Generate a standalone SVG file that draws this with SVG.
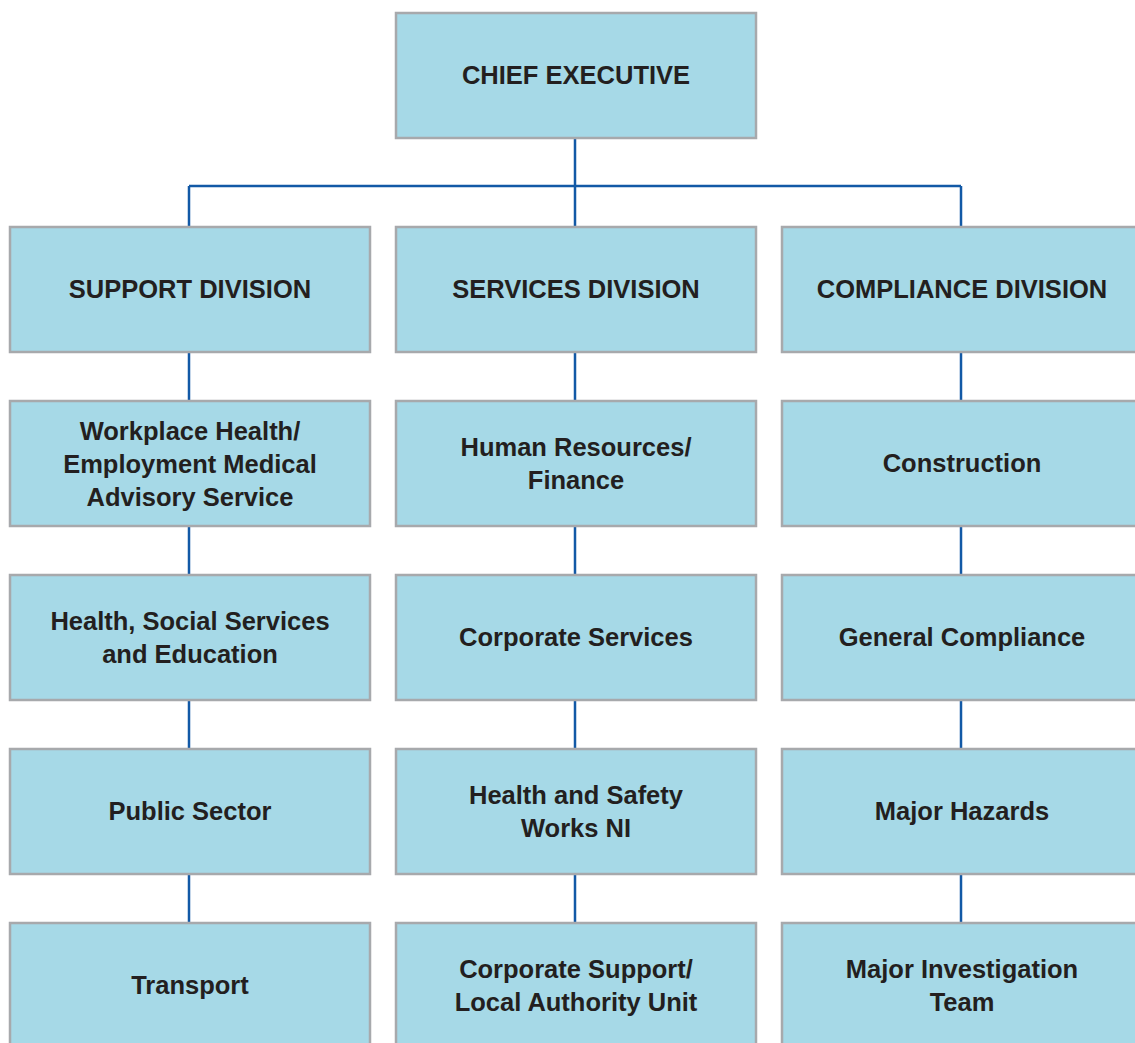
<svg xmlns="http://www.w3.org/2000/svg" width="1135" height="1043" viewBox="0 0 1135 1043">
<style>
.box{fill:#a6d9e7;stroke:#a7a9ac;stroke-width:2.5}
.t{font-family:"Liberation Sans",Arial,sans-serif;font-weight:bold;font-size:25.5px;fill:#231f20;text-anchor:middle}
.c{stroke:#1259a6;stroke-width:2.5;fill:none}
</style>
<rect width="1135" height="1043" fill="#ffffff"/>
<g id="connectors">
<path class="c" d="M575,138 V227 M189,186 H961 M189,186 V227 M961,186 V227"/>
<path class="c" d="M189,352 V401 M189,526 V575 M189,700 V749 M189,874 V923"/>
<path class="c" d="M575,352 V401 M575,526 V575 M575,700 V749 M575,874 V923"/>
<path class="c" d="M961,352 V401 M961,526 V575 M961,700 V749 M961,874 V923"/>
</g>
<g id="chief"><rect class="box" x="396" y="13" width="360" height="125"/><text class="t" x="576" y="84">CHIEF EXECUTIVE</text></g>
<g id="support"><rect class="box" x="10" y="227" width="360" height="125"/><text class="t" x="190" y="298">SUPPORT DIVISION</text></g>
<g id="services"><rect class="box" x="396" y="227" width="360" height="125"/><text class="t" x="576" y="298">SERVICES DIVISION</text></g>
<g id="compliance"><rect class="box" x="782" y="227" width="360" height="125"/><text class="t" x="962" y="298">COMPLIANCE DIVISION</text></g>
<g id="workplace"><rect class="box" x="10" y="401" width="360" height="125"/><text class="t" x="190" y="439.5">Workplace Health/</text><text class="t" x="190" y="472.5">Employment Medical</text><text class="t" x="190" y="505.5">Advisory Service</text></g>
<g id="hr"><rect class="box" x="396" y="401" width="360" height="125"/><text class="t" x="576" y="455.5">Human Resources/</text><text class="t" x="576" y="488.5">Finance</text></g>
<g id="construction"><rect class="box" x="782" y="401" width="360" height="125"/><text class="t" x="962" y="472">Construction</text></g>
<g id="hsse"><rect class="box" x="10" y="575" width="360" height="125"/><text class="t" x="190" y="629.5">Health, Social Services</text><text class="t" x="190" y="662.5">and Education</text></g>
<g id="corporate"><rect class="box" x="396" y="575" width="360" height="125"/><text class="t" x="576" y="646">Corporate Services</text></g>
<g id="general"><rect class="box" x="782" y="575" width="360" height="125"/><text class="t" x="962" y="646">General Compliance</text></g>
<g id="public"><rect class="box" x="10" y="749" width="360" height="125"/><text class="t" x="190" y="820">Public Sector</text></g>
<g id="hsworks"><rect class="box" x="396" y="749" width="360" height="125"/><text class="t" x="576" y="803.5">Health and Safety</text><text class="t" x="576" y="836.5">Works NI</text></g>
<g id="hazards"><rect class="box" x="782" y="749" width="360" height="125"/><text class="t" x="962" y="820">Major Hazards</text></g>
<g id="transport"><rect class="box" x="10" y="923" width="360" height="125"/><text class="t" x="190" y="994">Transport</text></g>
<g id="corpsupport"><rect class="box" x="396" y="923" width="360" height="125"/><text class="t" x="576" y="977.5">Corporate Support/</text><text class="t" x="576" y="1010.5">Local Authority Unit</text></g>
<g id="investigation"><rect class="box" x="782" y="923" width="360" height="125"/><text class="t" x="962" y="977.5">Major Investigation</text><text class="t" x="962" y="1010.5">Team</text></g>
</svg>
